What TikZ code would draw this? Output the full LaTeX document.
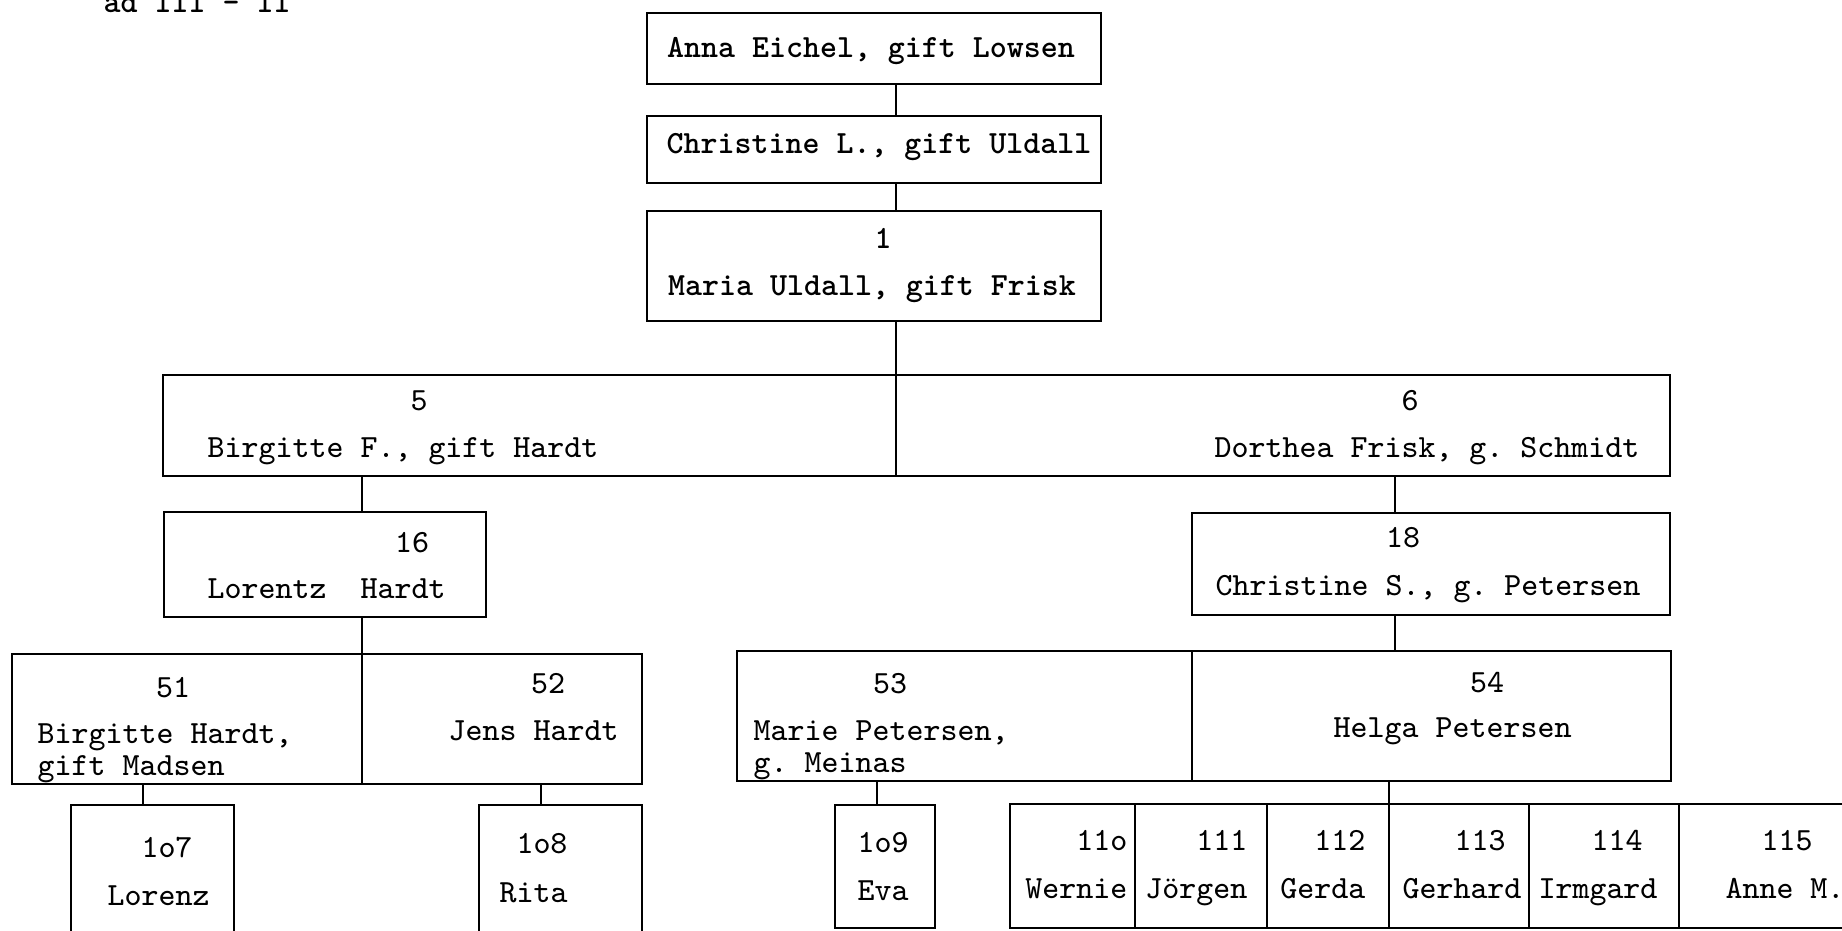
\documentclass[tikz,border=0pt]{standalone}
\usetikzlibrary{fit}
\frenchspacing
\tikzset{
  box/.style={draw, line width=0.75pt, inner sep=0pt, outer sep=0pt},
  stem/.style={line width=0.75pt},
  txt/.style={inner sep=0pt, anchor=base, font=\ttfamily\fontsize{9.2}{11}\selectfont},
  txtl/.style={txt, anchor=base west},
  txtr/.style={txt, anchor=base east},
  btxt/.style={txt, font=\ttfamily\bfseries\fontsize{9.2}{11}\selectfont},
}
\begin{document}
\begin{tikzpicture}[x=0.01cm,y=-0.01cm]
\useasboundingbox (0,0) rectangle (1842,930);
%\draw[step=100,gray,very thin] (0,0) grid (1842,930);
\node[btxt,anchor=base west] (tad) at (103,12) {ad III - II};
\node[box, fit={(647,13) (1101,84)}] (anna) {};
\node[box, fit={(647,116) (1101,183)}] (chrl) {};
\node[box, fit={(647,211) (1101,321)}] (maria) {};
\node[box, fit={(163,375) (896,476)}] (p5) {};
\node[box, fit={(896,375) (1670,476)}] (p6) {};
\node[box, fit={(164,512) (486,617)}] (p16) {};
\node[box, fit={(1192,513) (1670,615)}] (p18) {};
\node[box, fit={(12,654) (362,784)}] (p51) {};
\node[box, fit={(362,654) (642,784)}] (p52) {};
\node[box, fit={(737,651) (1192,781)}] (p53) {};
\node[box, fit={(1192,651) (1671,781)}] (p54) {};
\node[box, fit={(71,805) (234,945)}] (p107) {};
\node[box, fit={(479,805) (642,945)}] (p108) {};
\node[box, fit={(835,805) (935,928)}] (p109) {};
\node[box, fit={(1010,804) (1135,928)}] (c110) {};
\node[box, fit={(1135,804) (1267,928)}] (c111) {};
\node[box, fit={(1267,804) (1389,928)}] (c112) {};
\node[box, fit={(1389,804) (1529,928)}] (c113) {};
\node[box, fit={(1529,804) (1679,928)}] (c114) {};
\node[box, fit={(1679,804) (1880,928)}] (c115) {};
% stems
\coordinate (s1) at (896,0);
\coordinate (s5) at (362,0);
\coordinate (s6) at (1395,0);
\coordinate (s51) at (143,0);
\coordinate (s52) at (541,0);
\coordinate (s53) at (877,0);
\coordinate (s54) at (1389,0);
\draw[stem] (anna.south -| s1) -- (chrl.north -| s1);
\draw[stem] (chrl.south -| s1) -- (maria.north -| s1);
\draw[stem] (maria.south -| s1) -- (p5.north east);
\draw[stem] (p5.south -| s5) -- (p16.north -| s5);
\draw[stem] (p6.south -| s6) -- (p18.north -| s6);
\draw[stem] (p16.south -| s5) -- (p51.north east);
\draw[stem] (p18.south -| s6) -- (p54.north -| s6);
\draw[stem] (p51.south -| s51) -- (p107.north -| s51);
\draw[stem] (p52.south -| s52) -- (p108.north -| s52);
\draw[stem] (p53.south -| s53) -- (p109.north -| s53);
\draw[stem] (p54.south -| s54) -- (c113.north west);
% texts
\node[btxt] (tanna) at (871,57) {Anna Eichel, gift Lowsen};
\node[btxt] (tchrl) at (879,153) {Christine L., gift Uldall};
\node[btxt] (tmarian) at (883,248) {1};
\node[btxt] (tmaria) at (872,295) {Maria Uldall, gift Frisk};
\node[txt] (t5n) at (419,410) {5};
\node[txtl] (t5) at (207,457) {Birgitte F., gift Hardt};
\node[txt] (t6n) at (1410,410) {6};
\node[txtl] (t6) at (1214,457) {Dorthea Frisk, g. Schmidt};
\node[txt] (t16n) at (412,552) {16};
\node[txtl] (t16) at (207,598) {Lorentz~~Hardt};
\node[txt] (t18n) at (1403,547) {18};
\node[txtl] (t18) at (1215,595) {Christine S., g. Petersen};
\node[txt] (t51n) at (173,697) {51};
\node[txtl] (t51) at (37,743) {Birgitte Hardt,};
\node[txtl] (t51b) at (37,775) {gift Madsen};
\node[txt] (t52n) at (548,693) {52};
\node[txtl] (t52) at (448,740) {Jens Hardt};
\node[txt] (t53n) at (890,693) {53};
\node[txtl] (t53) at (753,740) {Marie Petersen,};
\node[txtl] (t53b) at (753,772) {g. Meinas};
\node[txt] (t54n) at (1487,692) {54};
\node[txtl] (t54) at (1333,737) {Helga Petersen};
\node[txt] (t107n) at (167,857) {1o7};
\node[txtl] (t107) at (107,905) {Lorenz};
\node[txt] (t108n) at (542,853) {1o8};
\node[txtl] (t108) at (499,902) {Rita};
\node[txt] (t109n) at (883,852) {1o9};
\node[txt] (t109) at (883,900) {Eva};
\node[txtr] (t110n) at (1128,850) {11o};
\node[txtr] (t110) at (1128,898) {Wernie};
\node[txtr] (t111n) at (1248,850) {111};
\node[txtr] (t111) at (1248,898) {Jörgen};
\node[txtr] (t112n) at (1366,850) {112};
\node[txtr] (t112) at (1366,898) {Gerda};
\node[txt] (t113n) at (1480,850) {113};
\node[txt] (t113) at (1462,898) {Gerhard};
\node[txt] (t114n) at (1617,850) {114};
\node[txt] (t114) at (1598,898) {Irmgard};
\node[txt] (t115n) at (1787,850) {115};
\node[txt] (t115) at (1785,898) {Anne M.};
\end{tikzpicture}
\end{document}
